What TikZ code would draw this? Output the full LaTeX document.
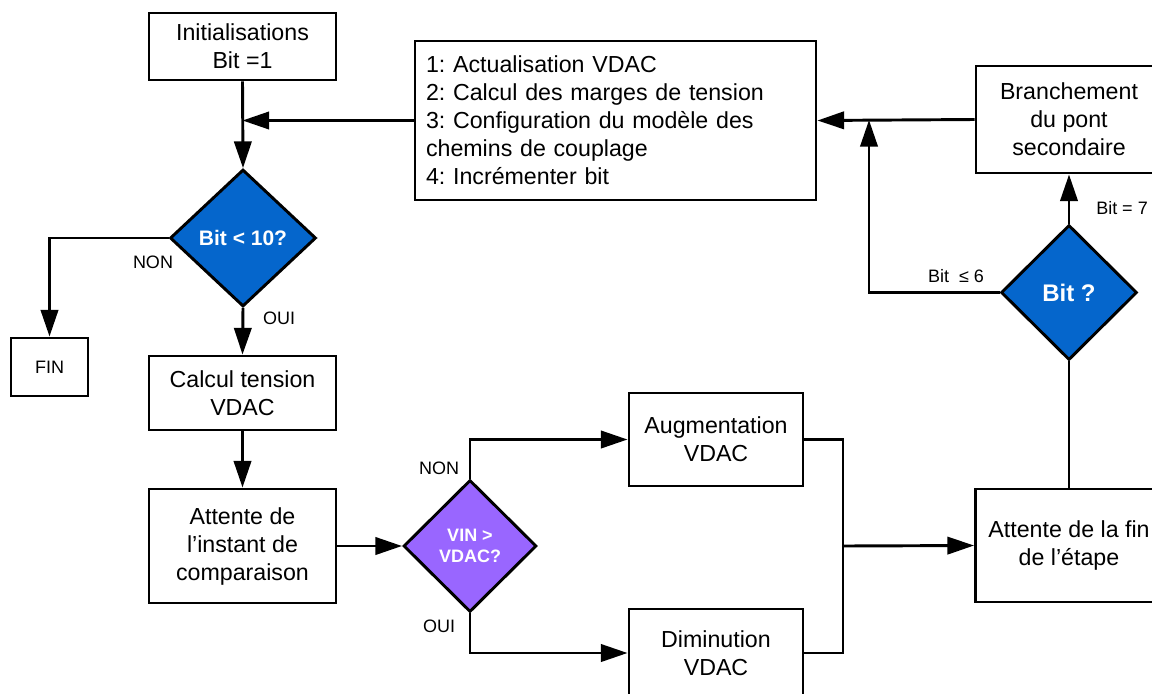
\documentclass[tikz,border=0pt]{standalone}
\usepackage{fontspec}
\setmainfont{Liberation Sans}
\usetikzlibrary{arrows.meta,shapes.geometric}
\definecolor{dblue}{RGB}{5,102,204}
\definecolor{dpurple}{RGB}{153,102,255}
\frenchspacing
\begin{document}
\begin{tikzpicture}[x=0.75pt,y=-0.75pt,
  box/.style={draw, line width=2.2pt, inner sep=0pt, align=center, font=\fontsize{17.4}{21}\selectfont},
  dia/.style={draw, shape=diamond, line width=2.2pt, inner sep=0pt, align=center, text=white},
  arr/.style={-{Triangle[length=20pt,width=13pt]}, line width=2.2pt},
  ln/.style={line width=2.2pt},
  lab/.style={font=\fontsize{13.5}{16}\selectfont, inner sep=0pt}]
\useasboundingbox (0,0) rectangle (1152,693);
\clip (0,0) rectangle (1152,693);
\fill[white] (0,0) rectangle (1152,693);

% nodes
\node[box, minimum width=140.25pt, minimum height=50.25pt] (init) at (242.5,46.5) {Initialisations\\Bit =1};
\node[box, text width=284.25pt, inner xsep=8.25pt, align=left, minimum height=119.25pt] (big) at (615.5,120.5)
  {1: Actualisation VDAC\\2: Calcul des marges de tension\\3: Configuration du modèle des\\chemins de couplage\\4: Incrémenter bit};
\node[dia, fill=dblue, minimum width=109.5pt, minimum height=102.75pt, font=\bfseries\fontsize{15.75}{18}\selectfont] (bit10) at (243,238) {Bit < 10?};
\node[box, minimum width=57.75pt, minimum height=43.5pt, font=\fontsize{13.5}{16}\selectfont] (fin) at (49.5,367) {FIN};
\node[box, minimum width=140.25pt, minimum height=55.5pt] (calc) at (242.5,393) {Calcul tension\\VDAC};
\node[box, minimum width=140.25pt, minimum height=85.5pt] (att) at (242.5,546) {Attente de\\l’instant de\\comparaison};
\node[dia, fill=dpurple, minimum width=99.75pt, minimum height=99pt, font=\bfseries\fontsize{13.5}{15.75}\selectfont] (vin) at (470,546) {VIN >\\VDAC?};
\node[box, minimum width=130.5pt, minimum height=69.75pt] (aug) at (716,439.5) {Augmentation\\VDAC};
\node[box, minimum width=130.5pt, minimum height=66pt] (dim) at (716,653) {Diminution\\VDAC};
\node[box, minimum width=140.25pt, minimum height=84.75pt] (attfin) at (1069,545.5) {Attente de la fin\\de l’étape};
\node[box, minimum width=139.5pt, minimum height=80.25pt] (branch) at (1069,119.5) {Branchement\\du pont\\secondaire};
\node[dia, fill=dblue, minimum width=102pt, minimum height=101.25pt, font=\bfseries\fontsize{18}{20}\selectfont] (bitq) at (1069,292.5) {Bit ?};

\coordinate (j) at (843,546);
\coordinate (k) at (869,120);

% labels
\node[lab] (lnon1) at (153,262) {NON};
\node[lab] (loui1) at (279,318) {OUI};
\node[lab] (lnon2) at (439,468) {NON};
\node[lab] (loui2) at (439,626) {OUI};
\node[lab] (lb7) at (1122,208) {Bit = 7};
\node[lab] (lb6) at (956,276) {Bit\ \ ≤ 6};

% connectors
\draw[arr] (init.south) -- (bit10.north);
\draw[arr] (big.west) -- (init.south |- big.west);
\draw[arr] (bit10.west) -| (fin.north);
\draw[arr] (bit10.south) -- (calc.north);
\draw[arr] (calc.south) -- (att.north);
\draw[arr] (att.east) -- (vin.west);
\draw[arr] (vin.north) |- (aug.west);
\draw[arr] (vin.south) |- (dim.west);
\draw[ln] (aug.east) -| (j) |- (dim.east);
\draw[arr] (j) -- (attfin.west);
\draw[ln] (attfin.north) -- (bitq.south);
\draw[arr] (bitq.north) -- (branch.south);
\draw[arr] (branch.west) -- (big.east);
\draw[arr] (bitq.west) -| (k);
\end{tikzpicture}
\end{document}
